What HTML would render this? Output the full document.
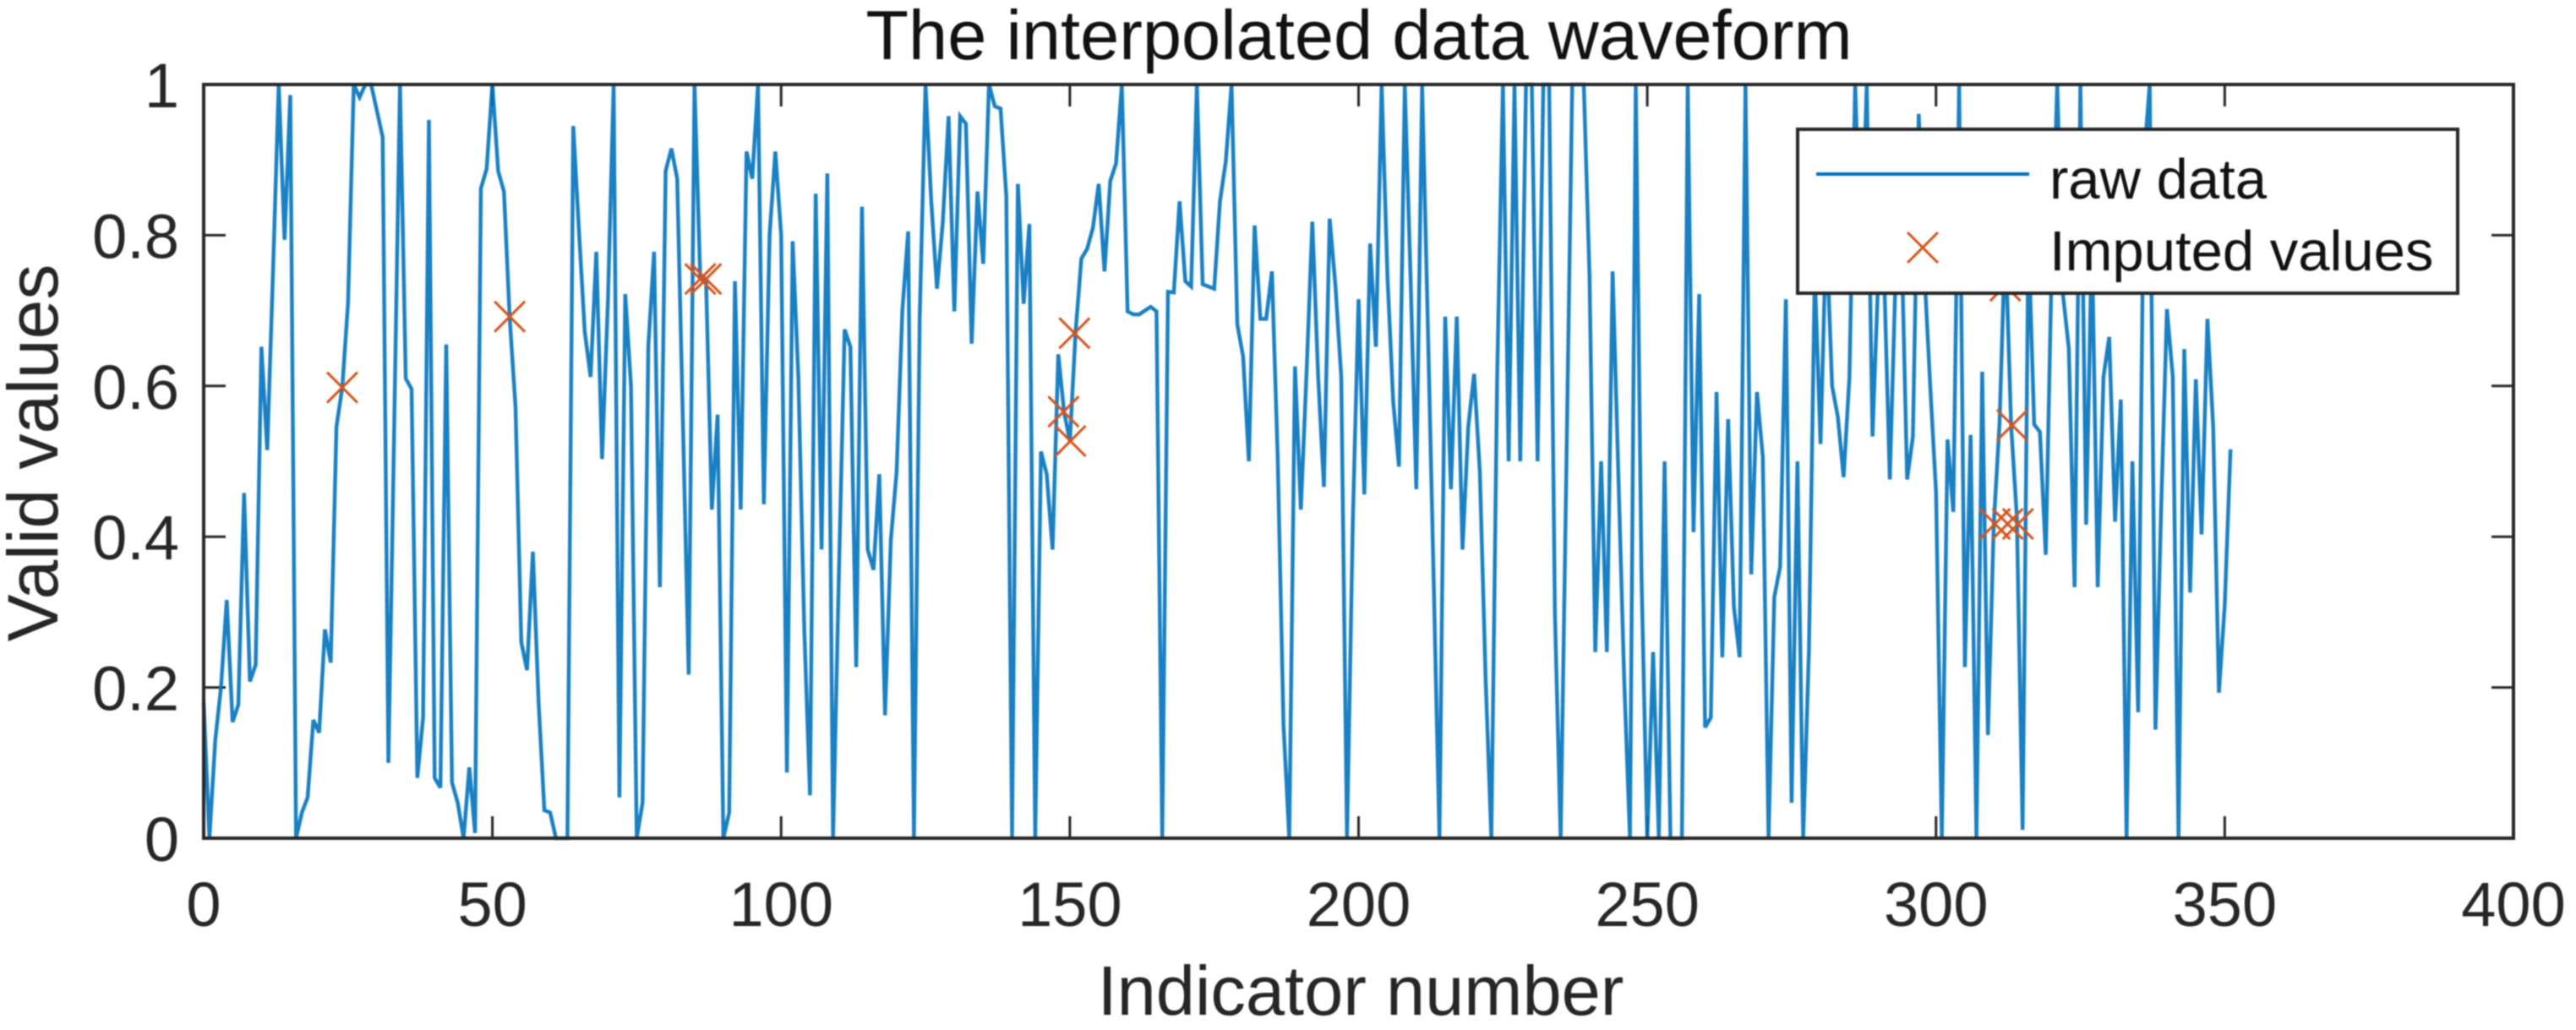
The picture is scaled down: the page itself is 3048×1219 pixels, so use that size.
<!DOCTYPE html>
<html lang="en">
<head>
<meta charset="utf-8">
<title>The interpolated data waveform</title>
<style>
html,body{margin:0;padding:0;background:#fff;width:3048px;height:1219px;overflow:hidden}
svg{display:block;filter:blur(0.8px)}
text{font-family:"Liberation Sans",Arial,sans-serif;fill:#262626}
</style>
</head>
<body>
<svg id="chart" xmlns="http://www.w3.org/2000/svg" width="3048" height="1219" viewBox="0 0 3048 1219">
  <rect x="0" y="0" width="3048" height="1219" fill="#ffffff"/>
  <text x="1608" y="70" font-size="83" text-anchor="middle" style="fill:#111">The interpolated data waveform</text>
  <text x="1610" y="1201" font-size="83" text-anchor="middle">Indicator number</text>
  <text x="0" y="0" font-size="84" text-anchor="middle" transform="translate(68 536) rotate(-90)">Valid values</text>
  <g id="ticks"></g>
  <g id="series"></g>
  <rect x="241" y="100" width="2733" height="892" fill="none" stroke="#262626" stroke-width="4"/>
  <g>
    <rect x="2127" y="153" width="781" height="194" fill="#ffffff" stroke="#262626" stroke-width="4"/>
    <line x1="2149" y1="206" x2="2401" y2="206" stroke="#0072BD" stroke-width="4"/>
    <text x="2425" y="235" font-size="67" style="fill:#111">raw data</text>
    <path d="M2257 275L2293 311M2293 275L2257 311" stroke="#D95319" stroke-width="3" fill="none"/>
    <text x="2425" y="320" font-size="67" style="fill:#111">Imputed values</text>
  </g>
</svg>
<script>
const rawValues = [
.18,0,.13,.2,.316,.154,.177,.458,.208,.23,
.652,.515,.75,1,.794,.986,0,.034,.054,.157,
.14,.277,.233,.546,.598,.71,1,.983,1,1,
.965,.93,.1,.55,1,.61,.596,.08,.16,.953,
.08,.067,.655,.074,.047,0,.094,.007,.862,.888,
1,.885,.858,.69,.572,.26,.223,.38,.18,.037,
.034,0,0,0,.945,.805,.672,.612,.778,.503,
.712,1,.054,.722,.6,0,.047,.652,.778,.333,
.885,.915,.875,.55,.217,1,.742,.742,.436,.562,
0,.034,.739,.436,.911,.875,1,.443,.8,.911,
.8,.087,.792,.61,.28,.057,.855,.383,.882,0,
.35,.675,.652,.227,.838,.383,.356,.483,.163,.396,
.486,.7,.805,0,.69,1,.845,.729,.818,.958,
.699,.958,.948,.656,.858,.762,1,.971,.968,.852,
0,.868,.709,.815,0,.513,.483,.383,.642,.566,
.527,.672,.769,.782,.81,.868,.752,.872,.895,1,
.699,.695,.695,.7,.705,.699,0,.725,.724,.845,
.739,.732,1,.735,.732,.729,.845,.898,1,.682,
.639,.5,.813,.689,.689,.752,.506,.15,0,.626,
.436,.619,.818,.612,.466,.822,.732,.612,0,.42,
.715,.456,.789,.652,1,.745,.579,.493,1,.745,
.463,1,.679,.346,0,.692,.463,.692,.383,.546,
.616,.486,.213,0,.612,1,.5,1,.5,1,
1,.5,1,1,.3,0,.5,1,1,1,
.745,.247,.5,.247,.752,.479,.21,0,1,.346,
0,.247,0,.5,0,0,0,1,.406,.722,
.147,.16,.592,.24,.556,.307,.24,1,.35,.592,
.506,0,.32,.36,.715,.047,.5,0,.25,.75,
.523,.81,.6,.559,.479,.612,1,.75,1,.533,
.745,.75,.476,.745,.8,.476,.533,.961,.75,.6,
.459,0,.529,.433,1,.227,.535,0,.619,.137,
.417,.55,.8,.548,.426,.011,.8,.549,.539,.376,
.75,1,.72,.65,.333,1,.416,.8,.333,.612,
.665,.42,.582,0,.5,.167,.9,1,.144,.44,
.702,.612,0,.649,.326,.609,.403,.689,.546,.193,
.31,.516
];
const imputedIndex = [24,53,86,87,148.9,150.1,150.8,310.2,312,312.4,313.2,314.2];
const imputedValues = [.598,.692,.742,.742,.566,.527,.67,.417,.733,.417,.548,.417];
const xTickValues = [0,50,100,150,200,250,300,350,400];
const xTickLabels = ['0','50','100','150','200','250','300','350','400'];
const yTickValues = [0,.2,.4,.6,.8,1];
const yTickLabels = ['0','0.2','0.4','0.6','0.8','1'];

const NS = 'http://www.w3.org/2000/svg';
const plot = {left:241, right:2974, top:100, bottom:992, xMax:400, yMax:1};
function xScale(v){ return plot.left + v / plot.xMax * (plot.right - plot.left); }
function yScale(v){ return plot.bottom - v / plot.yMax * (plot.bottom - plot.top); }
function make(tag, attrs, parent){
  const el = document.createElementNS(NS, tag);
  for (const k in attrs) el.setAttribute(k, attrs[k]);
  parent.appendChild(el);
  return el;
}

const ticks = document.getElementById('ticks');
const series = document.getElementById('series');
const TICK = 26;

xTickValues.forEach(function(v, i){
  const x = xScale(v);
  const bottomTick = make('line', {x1:x, x2:x, y1:plot.bottom, y2:plot.bottom - TICK, stroke:'#262626', 'stroke-width':3}, ticks);
  
  
  const topTick = make('line', {x1:x, x2:x, y1:plot.top, y2:plot.top + TICK, stroke:'#262626', 'stroke-width':3}, ticks);
  
  
  const label = make('text', {x:x, y:1096, 'font-size':74, 'text-anchor':'middle'}, ticks);
  
  
  label.textContent = xTickLabels[i];
});

yTickValues.forEach(function(v, i){
  const y = yScale(v);
  const leftTick = make('line', {x1:plot.left, x2:plot.left + TICK, y1:y, y2:y, stroke:'#262626', 'stroke-width':3}, ticks);
  
  
  const rightTick = make('line', {x1:plot.right, x2:plot.right - TICK, y1:y, y2:y, stroke:'#262626', 'stroke-width':3}, ticks);
  
  
  const label = make('text', {x:212, y:y + 27, 'font-size':74, 'text-anchor':'end'}, ticks);
  
  
  label.textContent = yTickLabels[i];
});

const rawLine = make('polyline', {
  points: rawValues.map(function(v, i){ return xScale(i).toFixed(1) + ',' + yScale(v).toFixed(1); }).join(' '),
  fill:'none', stroke:'#0072BD', 'stroke-width':4.5, 'stroke-opacity':0.9, 'stroke-linejoin':'miter', 'stroke-miterlimit':3
}, series);



imputedValues.forEach(function(v, i){
  const cx = xScale(imputedIndex[i]);
  const cy = yScale(v);
  const r = 18;
  const marker = make('path', {
    d: 'M' + (cx - r) + ' ' + (cy - r) + 'L' + (cx + r) + ' ' + (cy + r) + 'M' + (cx + r) + ' ' + (cy - r) + 'L' + (cx - r) + ' ' + (cy + r),
    fill:'none', stroke:'#D95319', 'stroke-width':3
  }, series);
  
  
});
</script>
</body>
</html>
